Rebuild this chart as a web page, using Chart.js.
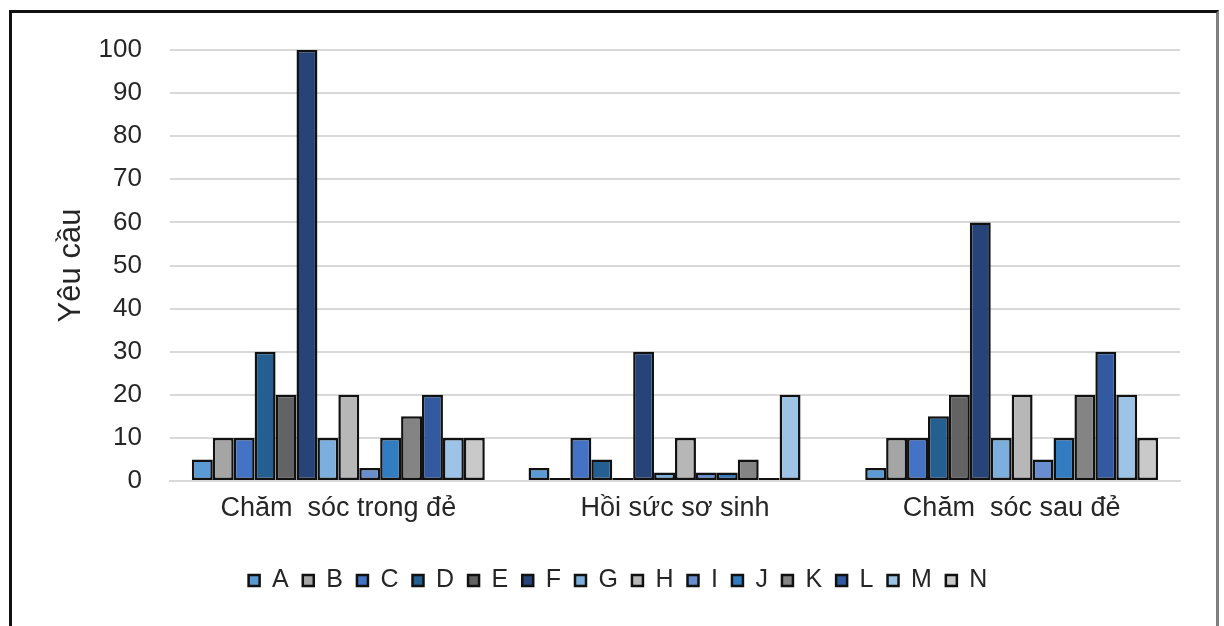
<!DOCTYPE html>
<html>
<head>
<meta charset="utf-8">
<script src="https://cdn.jsdelivr.net/npm/chart.js@4"></script>
<style>
    body { margin: 0; background: #fff; overflow: hidden; }
    #wrap { position: relative; width: 1224px; height: 626px; }
    #frame {
        position: absolute; left: 9px; top: 10px; width: 1204px; height: 700px;
        border-left: 3px solid #111; border-top: 3px solid #111; border-right: 3px solid #7f7f7f;
        pointer-events: none;
    }
</style>
</head>
<body>
<div id="wrap">
    <canvas id="reqChart" width="1224" height="626"></canvas>
    <div id="frame"></div>
</div>
<script>
const categories = ['Chăm  sóc trong đẻ', 'Hồi sức sơ sinh', 'Chăm  sóc sau đẻ'];
const seriesNames = ['A', 'B', 'C', 'D', 'E', 'F', 'G', 'H', 'I', 'J', 'K', 'L', 'M', 'N'];
const seriesColors = ['#5b9bd5', '#a5a5a5', '#4472c4', '#255e91', '#636363', '#264478', '#7cafdd',
    '#b7b7b7', '#698ed0', '#327dc2', '#848484', '#335aa1', '#9dc3e6', '#c9c9c9'];

// số yêu cầu theo từng nhóm, thứ tự A..N
const trongDe = [5, 10, 10, 30, 20, 100, 10, 20, 3, 10, 15, 20, 10, 10];
const hoiSuc = [3, 0, 10, 5, 0, 30, 2, 10, 2, 2, 5, 0, 20, null];
const sauDe = [3, 10, 10, 15, 20, 60, 10, 20, 5, 10, 20, 30, 20, 10];

const textColor = '#262626';
const fontFamily = '"Liberation Sans", Arial, sans-serif';

const datasets = seriesNames.map((name, i) => ({
    label: name,
    data: [trongDe[i], hoiSuc[i], sauDe[i]],
    backgroundColor: seriesColors[i],
    borderColor: '#111',
    borderWidth: 2.5,
    borderSkipped: false,
    minBarLength: 3,   // cột 0 vẫn hiện thành vạch mảnh
    barPercentage: 1.0,
    categoryPercentage: 0.87
}));

new Chart(document.getElementById('reqChart'), {
    type: 'bar',
    data: { labels: categories, datasets: datasets },
    options: {
        responsive: false,
        animation: false,
        layout: { padding: { top: 50, left: 56, right: 44, bottom: 23 } },
        plugins: {
            tooltip: { enabled: false },
            legend: {
                position: 'bottom',
                labels: {
                    boxWidth: 11,
                    boxHeight: 11,
                    padding: 14,
                    color: textColor,
                    font: { family: fontFamily, size: 25 }
                }
            }
        },
        scales: {
            x: {
                grid: { display: false },
                border: { color: '#d9d9d9', width: 2 },
                ticks: { color: textColor, font: { family: fontFamily, size: 27 }, padding: 3, maxRotation: 0 },
                afterFit: s => { s.height = 73; }
            },
            y: {
                min: 0,
                max: 100,
                ticks: { stepSize: 10, color: textColor, font: { family: fontFamily, size: 26 }, padding: 28 },
                grid: { color: '#d9d9d9', lineWidth: 2, drawTicks: false },
                border: { display: false },
                title: {
                    display: true,
                    text: 'Yêu cầu',
                    color: textColor,
                    font: { family: fontFamily, size: 31 },
                    padding: { top: -3, bottom: 0 }
                },
                afterFit: s => { s.width = 114; }
            }
        }
    }
});
</script>
</body>
</html>
